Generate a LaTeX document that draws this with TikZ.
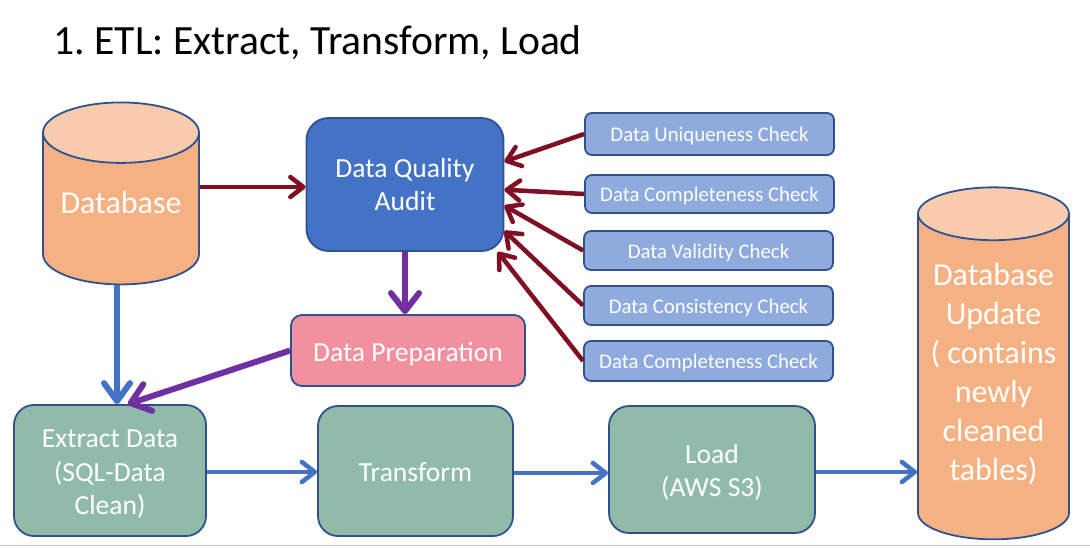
\documentclass[tikz,border=0pt]{standalone}
\usepackage{fontspec}
\setmainfont{Carlito}
\usetikzlibrary{shapes.geometric,arrows.meta}
\definecolor{LineBlue}{HTML}{2F528F}
\definecolor{MainBlue}{HTML}{4472C4}
\definecolor{SoftBlue}{HTML}{8FAADC}
\definecolor{DbOrange}{HTML}{F4B183}
\definecolor{DbTop}{HTML}{F8CBAD}
\definecolor{SageGreen}{HTML}{91BBA9}
\definecolor{SoftPink}{HTML}{F1909E}
\definecolor{DarkRed}{HTML}{7F0F22}
\definecolor{DeepPurple}{HTML}{7030A0}
\definecolor{EdgeGray}{HTML}{C9C7BF}
\newcommand{\padline}{\rule[-14pt]{0pt}{14pt}}
\newcommand{\padtop}{\rule{0pt}{25pt}}
\frenchspacing
\tikzset{
  dbase/.style={cylinder,shape border rotate=90,shape aspect=0.5,draw=LineBlue,line width=1.8pt,
                cylinder uses custom fill,cylinder body fill=DbOrange,cylinder end fill=DbTop,
                text=white,align=center,inner sep=0pt,font=\fontsize{32}{39}\selectfont},
  audit/.style={rectangle,rounded corners=22pt,draw=LineBlue,line width=1.8pt,fill=MainBlue,
                text=white,align=center,font=\fontsize{27.6}{33}\selectfont,inner sep=0pt},
  stage/.style={rectangle,rounded corners=20pt,draw=LineBlue,line width=1.8pt,fill=SageGreen,
                text=white,align=center,font=\fontsize{27.6}{33.5}\selectfont,inner sep=0pt},
  prep/.style={rectangle,rounded corners=11pt,draw=LineBlue,line width=1.8pt,fill=SoftPink,
               text=white,align=center,font=\fontsize{27.6}{33}\selectfont,inner sep=0pt,
               execute at begin node={\rule{0pt}{26pt}}},
  check/.style={rectangle,rounded corners=7pt,draw=LineBlue,line width=1.8pt,fill=SoftBlue,
                text=white,align=center,minimum width=249pt,font=\fontsize{20.8}{24}\selectfont,inner sep=0pt,
                execute at begin node={\rule{0pt}{19pt}}},
  arrr/.style={-{Straight Barb[length=13pt,width=20pt,line width=4.5pt,round]},DarkRed,line width=4.5pt},
  arrb/.style={-{Straight Barb[length=13pt,width=20pt,line width=4.5pt,round]},MainBlue,line width=4.5pt},
  arrv/.style={-{Straight Barb[length=18pt,width=26pt,line width=6pt,round]},MainBlue,line width=6pt},
  arrp/.style={-{Straight Barb[length=18pt,width=28pt,line width=6pt,round]},DeepPurple,line width=6pt},
}
\begin{document}
\begin{tikzpicture}[x=1pt,y=-1pt]
  \useasboundingbox[fill=white] (0,0) rectangle (1090,547);
  \node[anchor=west,font=\fontsize{41.6}{48}\selectfont] (title) at (50,43) {1. ETL: Extract, Transform, Load};

  \node[dbase,minimum width=156pt,minimum height=182pt] (source) at (121,209) {Database\padline};
  \node[dbase,shape aspect=0.42,minimum width=151pt,minimum height=352pt] (update) at (993.5,377) {Database\\Update\\( contains\\newly\\cleaned\\tables)\rule[-10pt]{0pt}{10pt}};

  \node[audit,minimum width=197pt,minimum height=133pt] (quality) at (405,184.5) {Data Quality\\Audit};
  \node[prep,minimum width=234pt,minimum height=71pt] (prepare) at (408,350.5) {Data Preparation};

  \node[check,minimum height=42pt] (unique) at (709.5,134) {Data Uniqueness Check};
  \node[check,minimum height=38pt] (complete) at (709.5,194) {Data Completeness Check};
  \node[check,minimum height=39pt] (valid) at (708.5,250.5) {Data Validity Check};
  \node[check,minimum height=39pt] (consist) at (708.5,305.5) {Data Consistency Check};
  \node[check,minimum height=40pt] (completeb) at (708.5,361) {Data Completeness Check};

  \node[stage,minimum width=192pt,minimum height=131pt] (extract) at (110,470.5) {\padtop Extract Data\\(SQL-Data\\Clean)};
  \node[stage,minimum width=195pt,minimum height=130pt] (transform) at (415.5,471) {\rule{0pt}{21pt}Transform};
  \node[stage,minimum width=206pt,minimum height=127pt] (load) at (712,469.5) {\padtop Load\\(AWS S3)};

  \draw[arrr] (source.east |- 0,187) -- (quality.west |- 0,187);
  \draw[arrr] (unique.west) -- (quality.13);
  \draw[arrr] (complete.west) -- (quality.-3.8);
  \draw[arrr] (valid.west) -- (quality.-12);
  \draw[arrr] (consist.west) -- (quality.-25.9);
  \draw[arrr] (completeb.west) -- (quality.-36.4);

  \draw[arrp] (quality.south) -- (quality.south |- prepare.north);
  \draw[arrp] (prepare.west) -- (extract.75);
  \draw[arrv] (source.267) -- (extract.north -| source.267);
  \draw[arrb] (extract.east |- 0,472) -- (transform.west |- 0,472);
  \draw[arrb] (transform.east |- 0,473) -- (load.west |- 0,473);
  \draw[arrb] (load.east |- 0,472) -- (update.west |- 0,472);

  \draw[EdgeGray,line width=1.5pt] (0,545.5) -- (1090,545.5);
\end{tikzpicture}
\end{document}
